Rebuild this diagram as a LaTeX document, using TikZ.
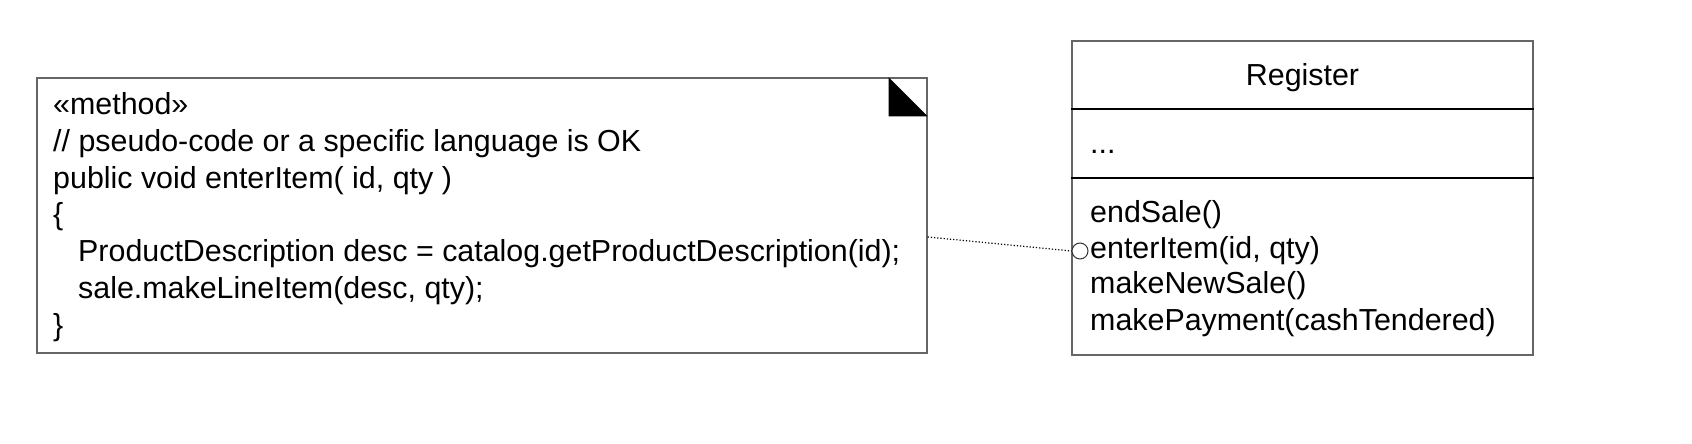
\documentclass[tikz,border=0pt]{standalone}
\usepackage{fontspec}
\setmainfont{Liberation Sans}
\usetikzlibrary{calc}
\tikzstyle{notebox}=[draw=black!60, line width=1.3pt, inner sep=0]
\tikzstyle{classbox}=[draw=black!60, line width=1.3pt, inner sep=0]
\tikzstyle{txt}=[anchor=base west, inner sep=0, font=\fontsize{30.4}{36}\selectfont]
\tikzstyle{port}=[shape=circle, draw=black!80, line width=1pt, minimum size=16pt, inner sep=0, fill=white]

\begin{document}
\begin{tikzpicture}[x=1pt,y=1pt]
\useasboundingbox (0,0) rectangle (1692,444);
% method note
\node[notebox, minimum width=890, minimum height=275] (note) at (482,228.5){};
\fill (note.north east)++(-39,0) -- ++(0,-39) -- ++(39,0) -- cycle;
\foreach \x/\y/\t in {53/329/{«method»}, 53/292/{// pseudo-code or a specific language is OK},
	53/255/{public void enterItem( id, qty )}, 53/219/{\{},
	78/182/{ProductDescription desc = catalog.getProductDescription(id);},
	78/145/{sale.makeLineItem(desc, qty);}, 53/108/{\}}}
	\node[txt] at (\x,\y) {\t};
% class Register
\node[classbox, minimum width=461, minimum height=314] (reg) at (1302.5,246){};
\draw[line width=1.2pt] ($(reg.west)+(0,89)$) -- ($(reg.east)+(0,89)$);
\draw[line width=1.2pt] ($(reg.west)+(0,20)$) -- ($(reg.east)+(0,20)$);
\node[txt, anchor=base] (regname) at (reg.north |- 0,358) {Register};
\node[txt] (attr) at (1090,290) {...};
\foreach \y/\t in {221/endSale(), 185/{enterItem(id, qty)}, 150/makeNewSale(), 113/makePayment(cashTendered)}
	\node[txt] at (1090,\y) {\t};
\node[port] (p) at (1080,193){};
\coordinate (nt) at ($(note.east)+(0,-21.5)$);
\draw[line width=1.2pt, dash pattern=on 1.2pt off 2pt] (nt) -- (p.west);
\end{tikzpicture}
\end{document}
